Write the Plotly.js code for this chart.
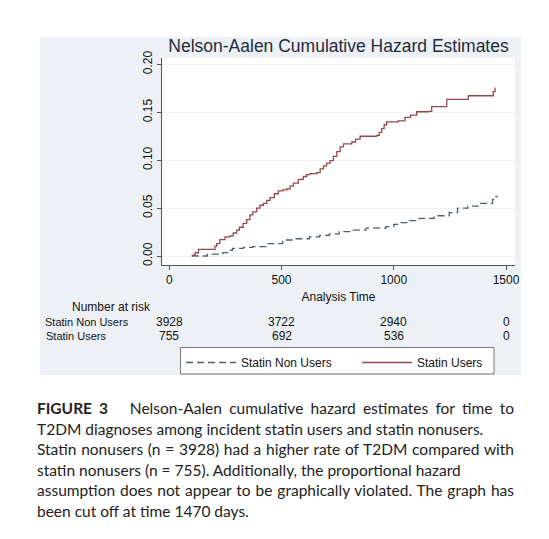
<!DOCTYPE html>
<html>
<head>
<meta charset="utf-8">
<script src="https://cdn.plot.ly/plotly-3.0.1.min.js"></script>
<style>
html,body{margin:0;padding:0;background:#fff;}
#chart{width:549px;height:539px;}
</style>
</head>
<body>
<div id="chart"></div>
<script>
// ---- data ----
var usersTime = [100,115,130,193,203,211,225,248,270,285,300,312,329,345,359,372,389,404,419,434,449,468,486,505,523,538,553,575,597,612,627,657,672,687,701,716,731,746,761,776,813,830,850,924,935,946,957,968,1020,1050,1075,1102,1154,1169,1206,1236,1302,1332,1436,1443,1451];
var usersHaz  = [0.001,0.0034,0.007,0.007,0.010,0.013,0.017,0.020,0.021,0.024,0.027,0.030,0.034,0.038,0.043,0.046,0.050,0.053,0.055,0.058,0.061,0.065,0.068,0.069,0.070,0.073,0.076,0.080,0.083,0.085,0.086,0.087,0.091,0.094,0.097,0.0995,0.104,0.109,0.114,0.117,0.119,0.122,0.125,0.126,0.129,0.133,0.137,0.140,0.141,0.1448,0.147,0.1506,0.151,0.156,0.156,0.1635,0.1635,0.1673,0.1673,0.1715,0.176];

var nonUsersTime = [100,170,238,260,282,330,371,440,505,560,624,670,713,757,820,876,965,1000,1024,1070,1113,1180,1247,1284,1330,1380,1440,1455,1460];
var nonUsersHaz  = [0.0,0.002,0.0035,0.006,0.008,0.009,0.0097,0.013,0.0167,0.018,0.020,0.0215,0.023,0.0254,0.027,0.029,0.0306,0.033,0.0348,0.037,0.0393,0.042,0.0452,0.050,0.052,0.055,0.059,0.062,0.063];

var riskTimes = [0, 500, 1000, 1500];
var riskNonUsers = [3928, 3722, 2940, 0];
var riskUsers = [755, 692, 536, 0];

var seriesNames = ['Statin Non Users', 'Statin Users'];
var xTicks = [0, 500, 1000, 1500];
var yTicks = [0.00, 0.05, 0.10, 0.15, 0.20];
var yTickText = ['0.00', '0.05', '0.10', '0.15', '0.20'];

var captionLines = [
  '<b>FIGURE 3</b>&nbsp;&nbsp;&nbsp;Nelson-Aalen cumulative hazard estimates for time to',
  'T2DM diagnoses among incident statin users and statin nonusers.',
  'Statin nonusers (n = 3928) had a higher rate of T2DM compared with',
  'statin nonusers (n = 755). Additionally, the proportional hazard',
  'assumption does not appear to be graphically violated. The graph has',
  'been cut off at time 1470 days.'
];
var captionJustify = [true, false, true, false, true, false];

// ---- layout geometry (pixels) ----
var W = 549, H = 539;
var L = 162, R = 515, T = 58, B = 265;
var pw = R - L, ph = B - T;
function px(x){ return (x - L) / pw; }
function py(y){ return (B - y) / ph; }

var font = 'Liberation Sans, Arial, Helvetica, sans-serif';

var traces = [
  {
    x: nonUsersTime, y: nonUsersHaz, name: seriesNames[0], legend: 'legend',
    type: 'scatter', mode: 'lines',
    line: {shape: 'hv', color: '#4f5f70', width: 1.3, dash: '7px,4px'}
  },
  {
    x: usersTime, y: usersHaz, name: seriesNames[1], legend: 'legend2',
    type: 'scatter', mode: 'lines',
    line: {shape: 'hv', color: '#95494a', width: 1.3}
  }
];

var annotations = [];
annotations.push({xref:'paper', yref:'paper', x: px(111), y: py(307), text:'Number at risk',
  showarrow:false, xanchor:'center', yanchor:'middle', font:{family:font, size:12, color:'#111'}});
annotations.push({xref:'paper', yref:'paper', x: px(43), y: py(322), text:seriesNames[0],
  showarrow:false, xanchor:'left', yanchor:'middle', font:{family:font, size:11, color:'#111'}});
annotations.push({xref:'paper', yref:'paper', x: px(44), y: py(336), text:seriesNames[1],
  showarrow:false, xanchor:'left', yanchor:'middle', font:{family:font, size:11, color:'#111'}});
for (var i = 0; i < riskTimes.length; i++) {
  annotations.push({xref:'x', yref:'paper', x: riskTimes[i], y: py(322), text:String(riskNonUsers[i]),
    showarrow:false, xanchor:'center', yanchor:'middle', font:{family:font, size:12, color:'#111'}});
  annotations.push({xref:'x', yref:'paper', x: riskTimes[i], y: py(336), text:String(riskUsers[i]),
    showarrow:false, xanchor:'center', yanchor:'middle', font:{family:font, size:12, color:'#111'}});
}
var capStart = annotations.length;
var capY0 = 408, capDy = 20.6, capLeft = 35, capRight = 512;
for (var j = 0; j < captionLines.length; j++) {
  annotations.push({xref:'paper', yref:'paper', x: px(capLeft), y: py(capY0 + j*capDy), text: captionLines[j],
    showarrow:false, xanchor:'left', yanchor:'middle', align:'left',
    font:{family:'Lato, sans-serif', size:15.5, color:'#222'}});
}

var legendCommon = {
  orientation: 'h', xanchor: 'left', y: py(348), yanchor: 'top',
  bgcolor: 'rgba(0,0,0,0)', borderwidth: 0,
  font: {family: font, size: 12, color: '#111'},
  itemwidth: 50
};

var layout = {
  width: W, height: H,
  margin: {l: L, r: W - R, t: T, b: H - B, pad: 0},
  paper_bgcolor: '#ffffff',
  plot_bgcolor: '#ffffff',
  showlegend: true,
  title: {text: 'Nelson-Aalen Cumulative Hazard Estimates', xref:'paper', x: 0.5, xanchor:'center',
    yref:'container', y: 1 - 46/H, yanchor:'middle',
    font:{family:font, size:17.5, color:'#1f2c3c'}},
  xaxis: {
    range: [-32.5, 1540], tickvals: xTicks, ticktext: xTicks.map(String),
    showgrid: false, zeroline: false, showline: true, linecolor: '#555', linewidth: 1,
    ticks: 'outside', ticklen: 4, tickcolor: '#555',
    tickfont: {family: font, size: 12, color: '#111'},
    title: {text: 'Analysis Time', font: {family: font, size: 12, color: '#111'}, standoff: 6}
  },
  yaxis: {
    range: [-0.0094, 0.2067], tickvals: yTicks, ticktext: yTickText, tickangle: -90,
    showgrid: true, gridcolor: '#edf1f5', gridwidth: 1, zeroline: false,
    showline: true, linecolor: '#555', linewidth: 1,
    ticks: 'outside', ticklen: 4, tickcolor: '#555',
    tickfont: {family: font, size: 12, color: '#111'}
  },
  legend: Object.assign({}, legendCommon, {x: px(181)}),
  legend2: Object.assign({}, legendCommon, {x: px(357)}),
  shapes: [
    {type:'rect', xref:'paper', yref:'paper', x0: px(40), x1: px(521), y0: py(375), y1: py(37),
      fillcolor:'#edf1f6', line:{width:0}, layer:'below'},
    {type:'rect', xref:'paper', yref:'paper', x0: 0, x1: 1, y0: 0, y1: 1,
      fillcolor:'#ffffff', line:{width:0}, layer:'below'},
    {type:'rect', xref:'paper', yref:'paper', x0: px(180.5), x1: px(494), y0: py(374), y1: py(347.5),
      fillcolor:'#ffffff', line:{width:1, color:'#777'}, layer:'below'}
  ],
  annotations: annotations
};

Plotly.newPlot('chart', traces, layout, {displayModeBar: false, staticPlot: true}).then(function(gd){
  // justify selected caption lines to the caption width
  for (var k = 0; k < captionLines.length; k++) {
    if (!captionJustify[k]) continue;
    var t = gd.querySelector('.annotation[data-index="' + (capStart + k) + '"] text.annotation-text');
    if (!t) continue;
    var len = t.getComputedTextLength();
    var nSpaces = (t.textContent.match(/[ \u00a0]/g) || []).length;
    var extra = (capRight - capLeft - len) / Math.max(nSpaces, 1);
    if (extra > 0) t.style.wordSpacing = extra + 'px';
  }
});
</script>
</body>
</html>
